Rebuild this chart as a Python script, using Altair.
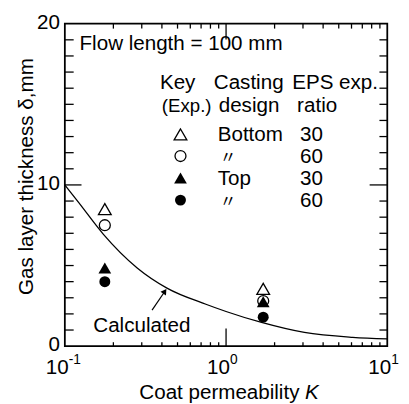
import altair as alt
import pandas as pd

FONT = "Liberation Sans"
W, H = 329, 329

# ---- data ----
calc_K = [0.1, 0.122, 0.173, 0.281, 0.43, 0.75, 1.0, 1.66, 3.06, 6.1, 10.0]
calc_delta = [10.0, 8.9, 6.95, 4.85, 3.6, 2.6, 2.15, 1.47, 0.85, 0.55, 0.45]

exp_K = [0.177, 1.70]
bottom30 = [8.5, 3.55]   # open triangle
bottom60 = [7.5, 2.8]    # open circle
top30 = [4.85, 2.75]     # filled triangle
top60 = [4.0, 1.8]       # filled circle

y_minor = [1, 2, 3, 4, 5, 6, 7, 8, 9, 11, 12, 13, 14, 15, 16, 17, 18, 19]
y_major = [10]
x_minor = [0.2, 0.3, 0.4, 0.5, 0.6, 0.7, 0.8, 0.9, 2, 3, 4, 5, 6, 7, 8, 9]
x_major = [1]
x_label_vals = [0.1, 1, 10]
x_label_exp = ["-1", "0", "1"]
y_label_vals = [0, 10, 20]
y_label_text = ["0", "10", "20"]

key_design = ["Bottom", "\u3003", "Top", "\u3003"]
key_ratio = ["30", "60", "30", "60"]
key_shape = ["triangle-up", "circle", "triangle-up", "circle"]
key_filled = [False, False, True, True]

xs = alt.Scale(type="log", domain=[0.1, 10], nice=False)
ys = alt.Scale(domain=[0, 20], nice=False, zero=False)


def X(f="K"):
    return alt.X(f"{f}:Q", scale=xs, axis=None)


def Y(f="d"):
    return alt.Y(f"{f}:Q", scale=ys, axis=None)


def txt(t, x, y, size=21, align="left", style="normal", font=FONT, angle=0):
    return alt.Chart(alt.Data(values=[{}])).mark_text(
        align=align, baseline="alphabetic", fontSize=size, font=font,
        fontStyle=style, angle=angle, color="black"
    ).encode(x=alt.value(x), y=alt.value(y), text=alt.value(t))


layers = []

# calculated curve
calc_df = pd.DataFrame({"K": calc_K, "d": calc_delta})
layers.append(
    alt.Chart(calc_df).mark_line(color="black", strokeWidth=1.3, interpolate="monotone")
    .encode(x=X(), y=Y())
)

# ticks
ymin_df = pd.DataFrame({"d": y_minor})
ymaj_df = pd.DataFrame({"d": y_major})
xmin_df = pd.DataFrame({"K": x_minor})
xmaj_df = pd.DataFrame({"K": x_major})
tick = dict(color="black", strokeWidth=1.3)
layers += [
    alt.Chart(ymin_df).mark_rule(**tick).encode(y=Y(), x=alt.value(0), x2=alt.value(9)),
    alt.Chart(ymin_df).mark_rule(**tick).encode(y=Y(), x=alt.value(W - 8), x2=alt.value(W)),
    alt.Chart(ymaj_df).mark_rule(**tick).encode(y=Y(), x=alt.value(0), x2=alt.value(17)),
    alt.Chart(ymaj_df).mark_rule(**tick).encode(y=Y(), x=alt.value(W - 18), x2=alt.value(W)),
    alt.Chart(xmin_df).mark_rule(**tick).encode(x=X(), y=alt.value(H - 4), y2=alt.value(H)),
    alt.Chart(xmin_df).mark_rule(**tick).encode(x=X(), y=alt.value(0), y2=alt.value(5)),
    alt.Chart(xmaj_df).mark_rule(**tick).encode(x=X(), y=alt.value(H - 18), y2=alt.value(H)),
    alt.Chart(xmaj_df).mark_rule(**tick).encode(x=X(), y=alt.value(0), y2=alt.value(16)),
]

# y tick labels
yl_df = pd.DataFrame({"d": y_label_vals, "t": y_label_text})
layers.append(
    alt.Chart(yl_df).mark_text(align="right", baseline="middle", fontSize=21, font=FONT,
                               color="black", dy=-1)
    .encode(y=Y(), x=alt.value(-5), text="t:N")
)

# x tick labels (10 with superscript)
xl_df = pd.DataFrame({"K": x_label_vals, "e": x_label_exp})
layers += [
    alt.Chart(xl_df).mark_text(align="right", baseline="alphabetic", dx=4, fontSize=21,
                               font=FONT, color="black")
    .encode(x=X(), y=alt.value(H + 28), text=alt.value("10")),
    alt.Chart(xl_df).mark_text(align="left", baseline="alphabetic", dx=4, fontSize=14,
                               font=FONT, color="black")
    .encode(x=X(), y=alt.value(H + 18), text="e:N"),
]

# experimental points
series = [
    (bottom30, "triangle-up", False),
    (bottom60, "circle", False),
    (top30, "triangle-up", True),
    (top60, "circle", True),
]
for vals, shape, filled in series:
    df = pd.DataFrame({"K": exp_K, "d": vals})
    size = 169 if shape == "triangle-up" else 125
    layers.append(
        alt.Chart(df).mark_point(shape=shape, filled=filled, size=size, color="black",
                                 strokeWidth=1.3, opacity=1)
        .encode(x=X(), y=Y())
    )

# annotations
layers.append(txt("Flow length = 100 mm", 15, 27))
layers.append(txt("Key", 97, 67))
layers.append(txt("Casting", 152, 67))
layers.append(txt("EPS exp.", 232, 67))
layers.append(txt("(Exp.)", 99, 90, size=19))
layers.append(txt("design", 157, 90))
layers.append(txt("ratio", 237, 90))

row_base = [120, 142, 164.5, 187]
for i in range(4):
    b = row_base[i]
    layers.append(
        alt.Chart(alt.Data(values=[{}])).mark_point(
            shape=key_shape[i], filled=key_filled[i],
            size=169 if key_shape[i] == "triangle-up" else 125,
            color="black", strokeWidth=1.3, opacity=1)
        .encode(x=alt.value(118), y=alt.value(b - 7))
    )
    if key_design[i] == "\u3003":
        layers.append(txt(key_design[i], 158, b, size=17, font="Noto Sans CJK JP"))
    else:
        layers.append(txt(key_design[i], 156, b))
    layers.append(txt(key_ratio[i], 240, b))

# "Calculated" label + arrow
layers.append(txt("Calculated", 29, 315))
layers.append(
    alt.Chart(alt.Data(values=[{}])).mark_rule(color="black", strokeWidth=1.2)
    .encode(x=alt.value(89), y=alt.value(292.3), x2=alt.value(102.5), y2=alt.value(272.5))
)
layers.append(
    alt.Chart(alt.Data(values=[{}])).mark_point(shape="triangle-up", filled=True, size=45,
                                                 angle=34, color="black", opacity=1)
    .encode(x=alt.value(102), y=alt.value(273))
)

# axis titles
layers.append(txt("Coat permeability", 76, 383))
layers.append(txt("K", 245, 383, style="italic"))
layers.append(txt("Gas layer thickness \u03b4,mm", -33, 156, align="center", angle=270))

chart = alt.layer(*layers).properties(
    width=W, height=H,
    autosize=alt.AutoSizeParams(type="none"),
    padding={"left": 58, "top": 12, "right": 14, "bottom": 55},
).configure_view(stroke="black", strokeWidth=1.8)

chart.save("out.html", embed_options={"renderer": "svg", "actions": False})
